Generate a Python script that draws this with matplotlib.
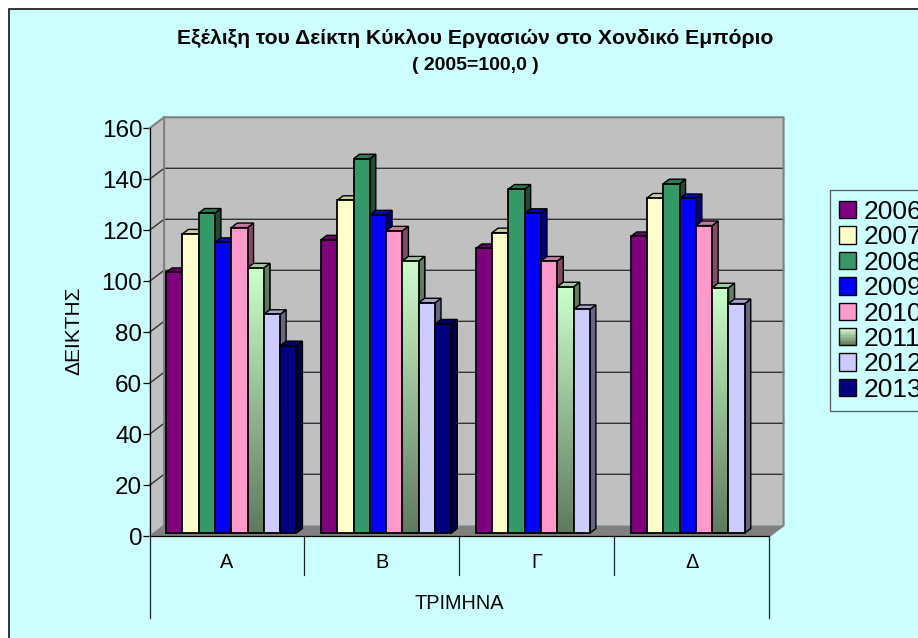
import numpy as np
import matplotlib
matplotlib.use("Agg")
import matplotlib.pyplot as plt
from matplotlib.patches import Polygon, Rectangle, Patch
from matplotlib.legend_handler import HandlerPatch
from matplotlib.colors import LinearSegmentedColormap, to_rgb

plt.rcParams['font.family'] = ['Liberation Sans', 'DejaVu Sans']

quarters = ['Α', 'Β', 'Γ', 'Δ']
years = ['2006', '2007', '2008', '2009', '2010', '2011', '2012', '2013']
v2006 = [102.2, 115.0, 111.6, 116.3]
v2007 = [117.3, 130.5, 117.8, 131.4]
v2008 = [125.5, 146.8, 134.9, 137.0]
v2009 = [114.0, 124.8, 125.4, 131.2]
v2010 = [119.8, 118.5, 106.7, 120.6]
v2011 = [104.0, 106.7, 96.6, 96.2]
v2012 = [85.8, 90.3, 87.7, 90.0]
v2013 = [73.5, 82.0, None, None]
series = [v2006, v2007, v2008, v2009, v2010, v2011, v2012, v2013]
colors = ['#800080', '#FFFFCC', '#339966', '#0000FF', '#FF99CC', '#CCFFCC', '#CCCCFF', '#000080']
yticks = [0, 20, 40, 60, 80, 100, 120, 140, 160]

W, H = 918, 638
fig = plt.figure(figsize=(W / 100, H / 100), dpi=100, facecolor='white')
fig.add_artist(Rectangle((8.5 / W, -0.1), 1.1, 1.1 - 9.5 / H, transform=fig.transFigure,
                         facecolor='#CCFFFF', edgecolor='#111111', lw=1.2, zorder=-1))

L, R, Y0, Y160 = 149.5, 769.0, 536.3, 128.3
ax = fig.add_axes([L / W, 1 - Y0 / H, (R - L) / W, (Y0 - Y160) / H])
ax.patch.set_visible(False)

px_x = (R - L) / 4
px_y = (Y0 - Y160) / 160
DX = 14.6 / px_x
DY = 11.0 / px_y
BW = 16.3 / px_x
F0, F1 = 0.295, 0.705
WALL = '#C0C0C0'
EDGE = '#808080'

# walls and floor
ax.add_patch(Polygon([(DX, DY), (4 + DX, DY), (4 + DX, 160 + DY), (DX, 160 + DY)],
                     facecolor=WALL, edgecolor='none', clip_on=False, zorder=1))
ax.add_patch(Polygon([(0, 0), (DX, DY), (DX, 160 + DY), (0, 160)],
                     facecolor=WALL, edgecolor='none', clip_on=False, zorder=1))
ax.add_patch(Polygon([(0, 0), (4, 0), (4 + DX, DY), (DX, DY)],
                     facecolor=EDGE, edgecolor='none', clip_on=False, zorder=1))
for v in yticks[1:-1]:
    ax.plot([0, DX, 4 + DX], [v, v + DY, v + DY], color='#333333', lw=1.0, clip_on=False, zorder=2)
ax.plot([0, DX, DX, DX], [160, 160 + DY, 160 + DY, DY], color=EDGE, lw=1.5, clip_on=False, zorder=2)
ax.plot([DX, 4 + DX, 4 + DX, 4], [160 + DY, 160 + DY, DY, 0], color=EDGE, lw=1.5, clip_on=False, zorder=2)
ax.plot([0, DX], [0, DY], color=EDGE, lw=1.0, clip_on=False, zorder=2)


def shade(c, k):
    return tuple(np.array(to_rgb(c)) * k)


GRAD = LinearSegmentedColormap.from_list('g', ['#5F7A5F', '#CCFFCC'])
GRAD_SIDE = LinearSegmentedColormap.from_list('gs', ['#303D30', '#668066'])
ramp = np.linspace(1, 0, 128).reshape(-1, 1)

z = 3.0
ox, oy = F0 * DX, F0 * DY
dx, dy = (F1 - F0) * DX, (F1 - F0) * DY
LW = 1.3
for q in range(len(quarters)):
    for s, vals in enumerate(series):
        v = vals[q]
        if v is None:
            continue
        x0 = q + 0.5 - 4 * BW + s * BW + ox
        x1 = x0 + BW
        b, t = oy, oy + v
        c = colors[s]
        grad = years[s] == '2011'
        side = Polygon([(x1, b), (x1 + dx, b + dy), (x1 + dx, t + dy), (x1, t)],
                       facecolor=shade(c, 0.5), edgecolor='black', lw=1.0, clip_on=False, zorder=z)
        ax.add_patch(side)
        if grad:
            im = ax.imshow(ramp, extent=[x1, x1 + dx, b, t + dy], aspect='auto', cmap=GRAD_SIDE,
                           vmin=0, vmax=1, zorder=z + 0.1)
            im.set_clip_path(side)
            ax.add_patch(Polygon(side.get_xy(), facecolor='none', edgecolor='black', lw=1.0,
                                 clip_on=False, zorder=z + 0.2))
        ax.add_patch(Polygon([(x0, t), (x1, t), (x1 + dx, t + dy), (x0 + dx, t + dy)],
                             facecolor=shade(c, 0.8), edgecolor='black', lw=1.0, clip_on=False, zorder=z + 0.3))
        if grad:
            ax.imshow(ramp, extent=[x0, x1, b, t], aspect='auto', cmap=GRAD, vmin=0, vmax=1,
                      zorder=z + 0.4, clip_on=False)
        ax.bar(x0, v, BW, bottom=b, align='edge', facecolor='none' if grad else c,
               edgecolor='black', lw=LW, clip_on=False, zorder=z + 0.5)
        z += 1

ax.set_xlim(0, 4)
ax.set_ylim(0, 160)
for sp in ['top', 'right']:
    ax.spines[sp].set_visible(False)
ax.spines['left'].set_zorder(2.5)
ax.spines['bottom'].set_zorder(2.5)
ax.spines['left'].set_linewidth(0.9)
ax.spines['bottom'].set_linewidth(0.9)
ax.set_yticks(yticks)
ax.tick_params(axis='y', length=4.7, width=0.9, labelsize=17.5, pad=0.5)
ax.set_xticks(np.arange(4) + 0.5, quarters)
ax.tick_params(axis='x', length=0, labelsize=14.3, pad=12)

# multi-level category axis lines
low1, low2 = -15.2, -32.0
for x in [1, 2, 3]:
    ax.plot([x, x], [0, low1], color='#222222', lw=0.9, clip_on=False, zorder=2)
for x in [0, 4]:
    ax.plot([x, x], [0, low2], color='#222222', lw=0.9, clip_on=False, zorder=2)

ax.set_xlabel('ΤΡΙΜΗΝΑ', fontsize=14.3, labelpad=16)
ax.set_ylabel('ΔΕΙΚΤΗΣ', fontsize=15)
ax.yaxis.set_label_coords((83 - L) / (R - L), 0.503)

fig.text(475 / W, 1 - 39 / H, 'Εξέλιξη του Δείκτη Κύκλου Εργασιών στο Χονδικό Εμπόριο',
         ha='center', va='center', fontsize=15.2, fontweight='bold')
fig.text(475 / W, 1 - 65.5 / H, '( 2005=100,0 )',
         ha='center', va='center', fontsize=14, fontweight='bold')


class GradHandler(HandlerPatch):
    def create_artists(self, legend, orig, xd, yd, w, h, fs, trans):
        arts = []
        n = 12
        for i in range(n):
            f = i / (n - 1)
            arts.append(Rectangle((-xd, -yd + h * i / n), w, h / n + 0.3, transform=trans,
                                  facecolor=GRAD(f), edgecolor='none'))
        arts.append(Rectangle((-xd, -yd), w, h, transform=trans, facecolor='none',
                              edgecolor='black', lw=1.0))
        return arts


handles = [Patch(facecolor=c, edgecolor='black', lw=1.0) for c in colors]
hmap = {handles[5]: GradHandler()}
leg = ax.legend(handles, years, handler_map=hmap, loc='upper left',
                bbox_to_anchor=(829.5 / W, 1 - 190.2 / H), bbox_transform=fig.transFigure,
                borderaxespad=0, fontsize=19, handlelength=0.64, handleheight=0.64,
                handletextpad=0.3, labelspacing=0.055, borderpad=0.36, frameon=True,
                fancybox=False, facecolor='none', edgecolor='#333333', framealpha=None)
leg.get_frame().set_linewidth(0.9)
leg.set_zorder(200)

fig.savefig('out.png', dpi=100, facecolor='white')
